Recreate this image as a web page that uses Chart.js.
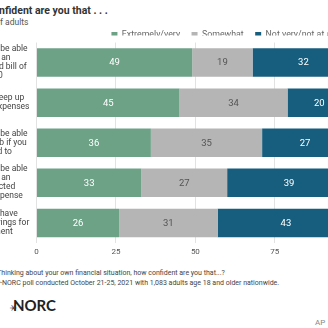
<!DOCTYPE html>
<html lang="en">
<head>
<meta charset="UTF-8">
<title>How confident are you that</title>
<script src="https://cdn.jsdelivr.net/npm/chart.js"></script>
<style>
    body {
        margin: 0;
        width: 328px;
        height: 328px;
        overflow: hidden;
        position: relative;
        background: #fff;
        font-family: Roboto, sans-serif;
    }
    .title {
        position: absolute; left: -36px; top: 4px;
        font-size: 10.5px; font-weight: bold; color: #333; white-space: nowrap;
    }
    .subtitle {
        position: absolute; left: -36px; top: 17px;
        font-size: 8.5px; color: #555; white-space: nowrap;
    }
    #wrap { position: absolute; left: -50px; top: 22px; }
    .note {
        position: absolute; left: -34px;
        font-size: 7px; color: #444; white-space: nowrap;
    }
    .logo {
        position: absolute; left: 4px; top: 296px;
        font-family: Lato, sans-serif; font-size: 15px; font-weight: bold; color: #222;
    }
    .logo span {
        display: inline-block; transform: rotate(90deg); font-weight: 300;
        font-size: 21px; line-height: 10px; vertical-align: -5px;
    }
    .ap { position: absolute; left: 315px; top: 318px; font-size: 8px; color: #888; }
</style>
</head>
<body>
<div class="title">How confident are you that . . .</div>
<div class="subtitle">Percent of adults</div>
<div id="wrap"><canvas id="chart" width="415" height="246"></canvas></div>
<div class="note" style="top:269px">Question: Thinking about your own financial situation, how confident are you that...?</div>
<div class="note" style="top:279px">Source: AP-NORC poll conducted October 21-25, 2021 with 1,083 adults age 18 and older nationwide.</div>
<div class="logo"><span>*</span>NORC</div>
<div class="ap">AP</div>

<script>
const categories = [
    ["You would be able", "to pay an", "unexpected bill of", "$400"],
    ["You can keep up", "with your expenses"],
    ["You would be able", "to find a job if you", "needed to"],
    ["You would be able", "to pay an", "unexpected", "$1,000 expense"],
    ["You will have", "enough savings for", "retirement"]
];
const seriesNames = ["Extremely/very", "Somewhat", "Not very/not at all"];
const extremelyVery = [49, 45, 36, 33, 26];
const somewhat = [19, 34, 35, 27, 31];
const notVery = [32, 20, 27, 39, 43];
const xTicks = [0, 25, 50, 75, 100];

const colors = ["#6ea287", "#b5b5b5", "#175e7e"];
const labelColors = ["#ffffff", "#555555", "#ffffff"];

// value labels in the middle of each segment
const valueLabels = {
    id: "valueLabels",
    afterDatasetsDraw(chart) {
        const ctx = chart.ctx;
        ctx.save();
        ctx.font = "9.5px Roboto";
        ctx.textAlign = "center";
        ctx.textBaseline = "middle";
        chart.data.datasets.forEach((ds, i) => {
            chart.getDatasetMeta(i).data.forEach((bar, j) => {
                const p = bar.getProps(["x", "y", "base"], true);
                ctx.fillStyle = labelColors[i];
                ctx.fillText(ds.data[j], (p.x + p.base) / 2, p.y + 0.5);
            });
        });
        ctx.restore();
    }
};

// squeeze the legend box so the bars sit right under it, and nudge it up/left
const legendTweak = {
    id: "legendTweak",
    beforeInit(chart) {
        const fit = chart.legend.fit;
        chart.legend.fit = function () {
            fit.bind(chart.legend)();
            this.height -= 14;
        };
    },
    afterLayout(chart) {
        const lg = chart.legend;
        lg.left -= 12;
        lg.right -= 12;
        lg.top -= 7;
        lg.bottom -= 7;
    }
};

new Chart(document.getElementById("chart"), {
    type: "bar",
    data: {
        labels: categories,
        datasets: [
            { label: seriesNames[0], data: extremelyVery, backgroundColor: colors[0] },
            { label: seriesNames[1], data: somewhat, backgroundColor: colors[1] },
            { label: seriesNames[2], data: notVery, backgroundColor: colors[2] }
        ]
    },
    options: {
        indexAxis: "y",
        responsive: false,
        animation: false,
        layout: { padding: { left: 0, right: 6, top: 0, bottom: 0 } },
        datasets: {
            bar: { categoryPercentage: 1, barPercentage: 0.71, borderWidth: 0 }
        },
        scales: {
            x: {
                stacked: true,
                min: 0,
                max: 100,
                afterBuildTicks(axis) { axis.ticks = xTicks.map(v => ({ value: v })); },
                grid: { color: "#e2e2e2", drawTicks: false },
                border: { display: false },
                ticks: { padding: 4, color: "#555", font: { family: "Roboto", size: 8 } }
            },
            y: {
                stacked: true,
                grid: { display: false, drawTicks: false },
                border: { display: false },
                ticks: {
                    crossAlign: "center",
                    padding: 7,
                    color: "#444",
                    font: { family: "Roboto", size: 8.5, lineHeight: 1.06 }
                }
            }
        },
        plugins: {
            legend: {
                position: "top",
                align: "end",
                labels: {
                    boxWidth: 6,
                    boxHeight: 6,
                    padding: 11.5,
                    color: "#666",
                    font: { family: "Roboto", size: 8.8 }
                }
            },
            tooltip: { enabled: false }
        }
    },
    plugins: [valueLabels, legendTweak]
});
</script>
</body>
</html>
